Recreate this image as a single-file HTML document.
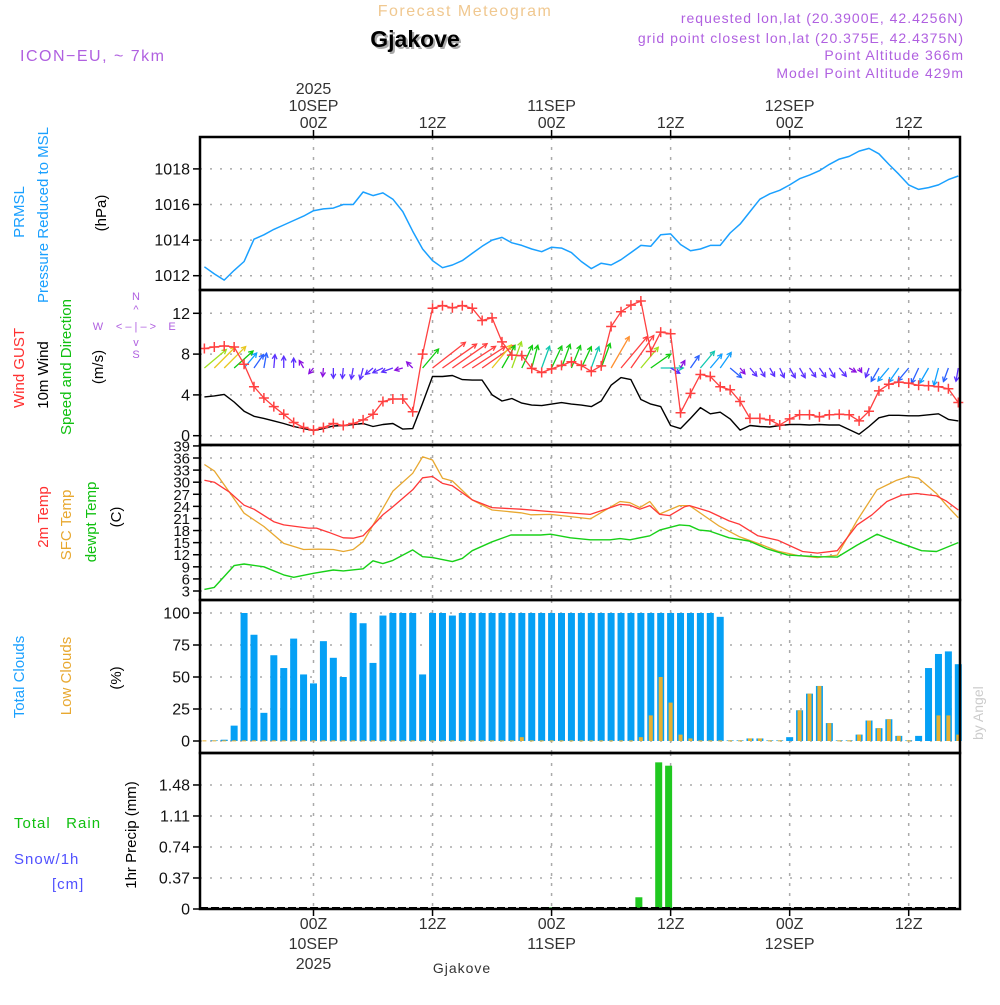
<!DOCTYPE html>
<html><head><meta charset="utf-8"><style>
body{margin:0;background:#fff;}
svg text{font-family:"Liberation Sans",sans-serif;}
</style></head><body>
<svg id="chart" xmlns="http://www.w3.org/2000/svg" width="1000" height="1000" viewBox="0 0 1000 1000">
<g>
<text x="465" y="16" text-anchor="middle" font-size="16" fill="#f0c890" letter-spacing="1.5">Forecast Meteogram</text>
<text x="417" y="49" text-anchor="middle" font-size="23" font-weight="bold" fill="#aaa">Gjakove</text>
<text x="415" y="47" text-anchor="middle" font-size="23" font-weight="bold" fill="#000">Gjakove</text>
<text x="20" y="61" font-size="16" fill="#b060e0" letter-spacing="1.5">ICON−EU, ~ 7km</text>
<g font-size="14" fill="#b060e0" text-anchor="end" letter-spacing="1">
<text x="964" y="23">requested lon,lat (20.3900E, 42.4256N)</text>
<text x="964" y="43">grid point closest lon,lat (20.375E, 42.4375N)</text>
<text x="964" y="60">Point Altitude 366m</text>
<text x="964" y="78">Model Point Altitude 429m</text>
</g>
<text transform="translate(983,740) rotate(-90)" font-size="14" fill="#ccc" font-family="Liberation Serif">by Angel</text>
<text x="462" y="973" text-anchor="middle" font-size="14" fill="#333" font-family="Liberation Mono" letter-spacing="1">Gjakove</text>
</g>
<g font-size="15">
<text transform="translate(24,212) rotate(-90)" text-anchor="middle" fill="#1aa0ff">PRMSL</text>
<text transform="translate(48,215) rotate(-90)" text-anchor="middle" fill="#1aa0ff">Pressure Reduced to MSL</text>
<text transform="translate(106,213) rotate(-90)" text-anchor="middle" fill="#000">(hPa)</text>
<text transform="translate(24,368) rotate(-90)" text-anchor="middle" fill="#ff3030">Wind GUST</text>
<text transform="translate(48,375) rotate(-90)" text-anchor="middle" fill="#000">10m Wind</text>
<text transform="translate(71,367) rotate(-90)" text-anchor="middle" fill="#10c010">Speed and Direction</text>
<text transform="translate(103,367) rotate(-90)" text-anchor="middle" fill="#000">(m/s)</text>
<g fill="#b060e0" font-size="11" text-anchor="middle">
<text x="136" y="300">N</text><text x="136" y="313">^</text><text x="98" y="330">W</text><text x="136" y="330">&lt; – | – &gt;</text><text x="172" y="330">E</text><text x="136" y="346">v</text><text x="136" y="358">S</text>
</g>
<text transform="translate(48,517) rotate(-90)" text-anchor="middle" fill="#ff3030">2m Temp</text>
<text transform="translate(71,525) rotate(-90)" text-anchor="middle" fill="#e8a830">SFC Temp</text>
<text transform="translate(96,522) rotate(-90)" text-anchor="middle" fill="#10c010">dewpt Temp</text>
<text transform="translate(121,517) rotate(-90)" text-anchor="middle" fill="#000">(C)</text>
<text transform="translate(24,677) rotate(-90)" text-anchor="middle" fill="#1aa0ff">Total Clouds</text>
<text transform="translate(71,676) rotate(-90)" text-anchor="middle" fill="#e8a830">Low Clouds</text>
<text transform="translate(121,678) rotate(-90)" text-anchor="middle" fill="#000">(%)</text>
<text x="14" y="828" fill="#10c010" letter-spacing="1" xml:space="preserve">Total   Rain</text>
<text x="14" y="864" fill="#5050ff" letter-spacing="1">Snow/1h</text>
<text x="52" y="889" fill="#5050ff" letter-spacing="1">[cm]</text>
<text transform="translate(136,835) rotate(-90)" text-anchor="middle" fill="#000">1hr Precip (mm)</text>
</g>
<g id="grid"></g>
<g id="marks"></g>
<g id="axes"></g>
</svg>
<script>
// ---------- data ----------
const hoursStart = -11;
const pressure = [1012.5,1012.1,1011.75,1012.3,1012.8,1014.05,1014.3,1014.6,1014.85,1015.1,1015.35,1015.65,1015.75,1015.8,1016,1016,1016.7,1016.5,1016.65,1016.3,1015.6,1014.5,1013.5,1012.85,1012.45,1012.6,1012.85,1013.25,1013.65,1014.0,1014.15,1013.85,1013.7,1013.5,1013.35,1013.6,1013.55,1013.3,1012.8,1012.4,1012.7,1012.6,1012.9,1013.3,1013.7,1013.65,1014.3,1014.35,1013.75,1013.4,1013.5,1013.7,1013.7,1014.4,1014.9,1015.6,1016.3,1016.6,1016.8,1017.1,1017.45,1017.65,1017.9,1018.25,1018.55,1018.7,1019.0,1019.15,1018.85,1018.25,1017.7,1017.1,1016.85,1016.95,1017.1,1017.4,1017.6];
const wind10 = [3.8,3.9,4.05,3.3,2.4,1.9,1.7,1.45,1.2,0.9,0.7,0.5,0.7,0.95,1.0,1.1,1.2,0.9,1.1,1.2,0.65,0.7,3.2,5.8,5.8,5.9,5.5,5.45,5.45,4.0,3.4,3.65,3.2,3.0,2.95,3.1,3.25,3.1,3.0,2.85,3.4,4.95,5.7,5.5,3.55,3.1,2.85,1.0,0.7,1.7,2.75,2.15,2.3,1.65,0.55,1.0,0.9,0.85,1.0,1.1,1.1,1.05,1.1,1.05,1.05,0.6,0.15,0.9,1.75,2.0,2.0,1.95,1.95,2.05,2.15,1.6,1.45];
const gust = [8.55,8.7,8.8,8.7,7.0,4.8,3.7,2.85,2.1,1.3,0.8,0.55,0.8,1.2,1.0,1.2,1.55,2.1,3.35,3.6,3.6,2.35,8.0,12.5,12.75,12.55,12.75,12.5,11.3,11.55,9.2,7.9,7.85,6.6,6.2,6.55,6.9,7.25,6.9,6.3,6.85,10.7,12.15,12.8,13.2,8.25,10.15,10.0,2.25,4.15,6.0,5.8,4.8,4.5,3.35,1.7,1.7,1.55,1.05,1.65,2.05,2.05,1.85,2.05,2.1,2.05,1.45,2.4,4.4,5.05,5.25,5.15,4.95,4.9,4.8,4.6,3.25];
const windDir = [50,45,45,48,40,35,10,5,0,0,330,220,185,180,185,190,195,230,245,250,255,315,40,52,55,55,57,57,55,40,30,20,25,15,20,25,20,22,25,20,20,30,40,35,40,55,90,120,30,35,40,40,35,130,140,140,150,150,155,150,150,145,145,150,140,120,150,200,210,220,215,220,205,210,195,200,190];
const t2mHours = [-11,-10,-8.5,-7,-6,-4,-3,-0.5,0.3,1.5,3,4,5,7,8,10,11,12,13,14,16,18,20.9,23.9,27.9,30.9,31.9,32.9,33.9,34.9,35.9,37.4,37.9,39.9,41.9,42.9,44.8,46.8,49.3,50.8,52.8,54.8,56.3,57.8,59.3,60.8,62.8,63.8,65];
const t2m = [30.5,30.0,27.6,24.3,23.3,20.2,19.4,18.6,18.6,17.6,16.2,16.1,16.7,21.9,23.9,28.1,31.1,31.4,29.7,29.1,25.6,23.7,23.3,22.7,22.0,24.5,24.3,23.3,24.2,22.0,21.7,23.9,24.2,22.7,20.4,19.6,16.7,15.6,12.8,12.4,13.0,19.4,21.9,25.2,26.8,27.2,26.6,25.3,23.1];
const sfcHours = [-11,-10,-8.5,-7,-5,-3,-1,0.5,2,3,4,5,7,8,10,11,12,13,14,16,18,20.9,21.9,23.9,27.9,30.9,31.9,32.9,33.9,34.9,36.9,37.9,40.9,42.9,44.8,46.8,48.8,50.8,52.8,54.8,56.8,58.8,60,61,62.8,63.8,65];
const sfcT = [34.4,32.8,27.6,22.3,19.0,14.8,13.3,13.4,13.3,12.8,13.3,15.2,23.5,27.8,32.2,36.3,35.5,31.0,30.3,25.6,23.1,22.4,21.9,22.0,20.9,25.2,24.9,23.7,25.2,22.1,24.2,24.2,19.1,16.5,14.8,12.9,11.8,11.3,11.9,20.5,28.1,30.5,31.4,31.0,27.2,24.3,21.2];
const dewHours = [-11,-10,-8,-7,-5,-3,-2,0,2,3,5,6,7,8,10,11,12,14,15,16,18,19.9,22.9,23.9,25.9,27.9,29.9,30.9,31.9,33.9,34.9,36.9,37.9,38.9,39.9,41.9,43.9,45.8,47.8,50.8,52.8,54.8,56.8,58.8,61.3,62.8,65];
const dewT = [3.4,3.9,9.3,9.7,9.0,7.0,6.4,7.4,8.2,8.0,8.5,10.5,9.8,10.6,13.2,11.5,11.3,10.3,11.1,13.0,15.2,16.9,16.9,17.1,16.2,15.7,15.7,16.0,15.7,16.7,18.1,19.4,19.2,18.1,17.9,16.2,15.4,13.4,11.9,11.5,11.4,14.4,17.1,15.2,13.0,12.8,15.0];
const totalClouds = [0,0.5,1,12,100,83,22,67,57,80,52,45,78,65,50,100,92,61,98,100,100,100,52,100,100,98,100,100,100,100,100,100,100,100,100,100,100,100,100,100,100,100,100,100,100,100,100,100,100,100,100,100,97,0.5,0.5,2,2,0.5,0.5,3,24,37,43,14,0.5,0.5,5,16,10,17,4,0.5,4,57,68,70,60];
const lowClouds = [0.5,0.5,0.5,0.5,0.5,0.5,0.5,0.5,0.5,0.5,0.5,0.5,0.5,0.5,0.5,0.5,0.5,0.5,0.5,0.5,0.5,0.5,0.5,0.5,0.5,0.5,0.5,0.5,0.5,0.5,0.5,0.5,3,0.5,0.5,0.5,0.5,0.5,0.5,0.5,0.5,0.5,0.5,0.5,3,20,50,30,5,2,0.5,0.5,0.5,0.5,0.5,2,2,0.5,0.5,0,24,37,43,14,0.5,0.5,5,16,10,17,4,0.5,0,0,20,20,5];
const rainHours = [14,24,33,35,36];
const rain = [0.01,0.02,0.14,1.75,1.71];
const pTicks = [1012,1014,1016,1018];
const wTicks = [0,4,8,12];
const tTicks = [3,6,9,12,15,18,21,24,27,30,33,36,39];
const cTicks = [0,25,50,75,100];
const rTicks = [0,0.37,0.74,1.11,1.48];
const rTickLabels = ["0","0.37","0.74","1.11","1.48"];
const timeTickHours = [0,12,24,36,48,60];
const topTickLabels = [["2025","10SEP","00Z"],["12Z"],["11SEP","00Z"],["12Z"],["12SEP","00Z"],["12Z"]];
const bottomTickLabels = [["00Z","10SEP","2025"],["12Z"],["00Z","11SEP"],["12Z"],["00Z","12SEP"],["12Z"]];

// ---------- scales ----------
const X = t => 313.5 + 9.92 * t;
const yP = v => 275.7 - (v - 1012) * 17.8;
const yW = v => 435.7 - v * 10.2;
const yT = v => 591 - (v - 3) * 4.03;
const yC = v => 741 - v * 1.28;
const yR = v => 909 - v * 83.8;
const L = 200, R = 960;
const panels = [[137,290,yP,pTicks,null],[290,445,yW,wTicks,null],[445,600,yT,tTicks,null],[600,753,yC,cTicks,null],[753,909,yR,rTicks,rTickLabels]];
const NS = "http://www.w3.org/2000/svg";
function mk(parent, tag, attrs){const e=document.createElementNS(NS,tag);for(const k in attrs)e.setAttribute(k,attrs[k]);parent.appendChild(e);return e;}
const grid=document.getElementById('grid'), marks=document.getElementById('marks'), axes=document.getElementById('axes');

panels.forEach((p,pi)=>{
  const [top,bot,ys,ticks,labels]=p;
  ticks.forEach((v,i)=>{
    const y=ys(v);
    const g=mk(grid,'line',{x1:L,x2:R,y1:y,y2:y,stroke:'#aaa','stroke-width':1.5,'stroke-dasharray':'2 8'});
    
    
    const tk=mk(axes,'line',{x1:L-7,x2:L,y1:y,y2:y,stroke:'#000','stroke-width':1.5});
    
    
    const tx=mk(axes,'text',{x:L-10,y:y+5.5,'text-anchor':'end','font-size':pi===2?15:16,fill:'#111'});
    
    
    tx.textContent = labels? labels[i] : String(v);
  });
  timeTickHours.forEach(t=>{
    const vl=mk(grid,'line',{x1:X(t),x2:X(t),y1:top,y2:bot,stroke:'#aaa','stroke-width':1.5,'stroke-dasharray':'3 7'});
    
    
  });
  const fr=mk(axes,'rect',{x:L,y:top,width:R-L,height:bot-top,fill:'none',stroke:'#000','stroke-width':2.5});
  
  
});
timeTickHours.forEach((t,i)=>{
  const tt=mk(axes,'line',{x1:X(t),x2:X(t),y1:130,y2:137,stroke:'#000','stroke-width':1.5});
  
  
  const lines=topTickLabels[i];
  lines.forEach((s,j)=>{
    const tx=mk(axes,'text',{x:X(t),y:128-(lines.length-1-j)*17,'text-anchor':'middle','font-size':16,fill:'#333'});
    
    
    tx.textContent=s;
  });
  const bt=mk(axes,'line',{x1:X(t),x2:X(t),y1:909,y2:916,stroke:'#000','stroke-width':1.5});
  
  
  bottomTickLabels[i].forEach((s,j)=>{
    const tx=mk(axes,'text',{x:X(t),y:929+j*20,'text-anchor':'middle','font-size':16,fill:'#333'});
    
    
    tx.textContent=s;
  });
});

function poly(vals, hrs, ys, color, name, w){
  const pts=vals.map((v,i)=>X(hrs?hrs[i]:hoursStart+i).toFixed(1)+','+ys(v).toFixed(1)).join(' ');
  const e=mk(marks,'polyline',{points:pts,fill:'none',stroke:color,'stroke-width':w||1.4,'stroke-linejoin':'round'});
  
  
  return e;
}
poly(pressure,null,yP,'#1aa0ff','pressure-line',1.5);
totalClouds.forEach((v,i)=>{
  const x=X(hoursStart+i);
  const b=mk(marks,'rect',{x:x-3.5,y:yC(v),width:7,height:Math.max(0,yC(0)-yC(v)),fill:'#05a0f5'});
  
  
});
lowClouds.forEach((v,i)=>{
  if(v<=0) return;
  const x=X(hoursStart+i);
  const b=mk(marks,'rect',{x:x-2,y:yC(v),width:4,height:Math.max(1,yC(0)-yC(v)),fill:'#e8b030'});
  
  
});
rain.forEach((v,i)=>{
  const x=X(rainHours[i])-2;
  const b=mk(marks,'rect',{x:x-3.5,y:yR(v),width:7,height:yR(0)-yR(v),fill:'#20c820'});
  
  
});
const base=mk(marks,'line',{x1:L,x2:R,y1:908,y2:908,stroke:'#000','stroke-width':2,'stroke-dasharray':'8 3'});


poly(sfcT,sfcHours,yT,'#e8a830','sfc-temp-line',1.3);
poly(t2m,t2mHours,yT,'#ff3838','t2m-line',1.3);
poly(dewT,dewHours,yT,'#18d018','dewpoint-line',1.4);
poly(wind10,null,yW,'#000','wind10-line',1.4);
function windColor(s){
  if(s<0.8) return '#8a10e0'; if(s<1.5) return '#5a30ff'; if(s<2) return '#2a60ff'; if(s<2.6) return '#10a0ff';
  if(s<3) return '#10c8b0'; if(s<3.5) return '#10cc10'; if(s<3.9) return '#a0e020'; if(s<4.4) return '#e8c820';
  if(s<5) return '#ff9030'; return '#ff4040';
}
windDir.forEach((d,i)=>{
  const s=wind10[i], x=X(hoursStart+i), y=368;
  const len=4+s*6.5, a=d*Math.PI/180;
  const x2=x+len*Math.sin(a), y2=y-len*Math.cos(a);
  const hx=Math.sin(a), hy=-Math.cos(a), h=5;
  const c=windColor(s);
  const g=mk(marks,'g',{stroke:c,'stroke-width':1.3,fill:'none'});
  
  
  mk(g,'line',{x1:x,y1:y,x2:x2,y2:y2});
  const ca=Math.cos(0.5), sa=Math.sin(0.5);
  const bx=-hx, by=-hy;
  mk(g,'polyline',{points:`${x2+h*(bx*ca-by*sa)},${y2+h*(bx*sa+by*ca)} ${x2},${y2} ${x2+h*(bx*ca+by*sa)},${y2+h*(-bx*sa+by*ca)}`});
});
poly(gust,null,yW,'#ff4040','gust-line',1.3);
gust.forEach((v,i)=>{
  const x=X(hoursStart+i), y=yW(v);
  const m=mk(marks,'path',{d:`M${x-5},${y}H${x+5}M${x},${y-5}V${y+5}`,stroke:'#ff4040','stroke-width':1.5});
  
  
});
</script>
</body></html>
